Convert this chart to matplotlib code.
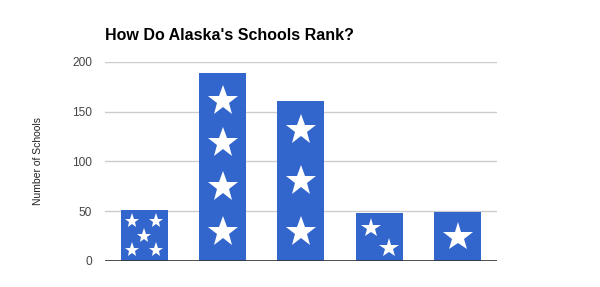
import matplotlib.pyplot as plt

plt.rcParams['font.family'] = ['Liberation Sans', 'DejaVu Sans']

# data
categories = ["1 star", "2 stars", "3 stars", "4 stars", "5 stars"]
schools = [51, 189, 161, 48, 49]
yticks = [0, 50, 100, 150, 200]

BAR_COLOR = "#3366cc"

# star decoration per bar: (x offset in bar units, y in data units, marker size)
star_layouts = [
    [(-0.15, 40, 11), (0.15, 40, 11), (0, 25, 11), (-0.15, 11, 11), (0.15, 11, 11)],
    [(0, 161, 23), (0, 119, 23), (0, 74, 23), (0, 29, 23)],
    [(0, 132, 23), (0, 80, 23), (0, 29, 23)],
    [(-0.11, 33, 15), (0.12, 13, 15)],
    [(0, 24, 22)],
]


def generate_chart():
    fig = plt.figure(figsize=(6, 2.87), dpi=100)
    ax = fig.add_axes([0.175, 0.0906, 0.653, 0.6934])

    x = list(range(len(categories)))
    ax.bar(x, schools, width=0.6, color=BAR_COLOR, zorder=2)

    for i, layout in enumerate(star_layouts):
        for dx, y, s in layout:
            ax.plot(i + dx, y, marker="*", markersize=s, color="white",
                    markeredgewidth=0, zorder=3)

    ax.set_xlim(-0.5, len(categories) - 0.5)
    ax.set_ylim(0, 200)
    ax.set_yticks(yticks)
    ax.set_xticks([])
    ax.grid(axis="y", color="#cccccc", linewidth=1, zorder=0)
    ax.axhline(0, color="#333333", linewidth=1.2, zorder=4)
    for sp in ax.spines.values():
        sp.set_visible(False)
    ax.tick_params(axis="y", length=0, pad=9.4, labelsize=8.6, labelcolor="#444444")

    ax.set_ylabel("Number of Schools", fontsize=7.5, color="#222222", labelpad=21)
    fig.text(0.175, 0.878, "How Do Alaska's Schools Rank?", fontsize=11.5,
             fontweight="bold", color="#000000", ha="left", va="center")

    plt.savefig("out.png", dpi=100)
    plt.close()


if __name__ == "__main__":
    generate_chart()
